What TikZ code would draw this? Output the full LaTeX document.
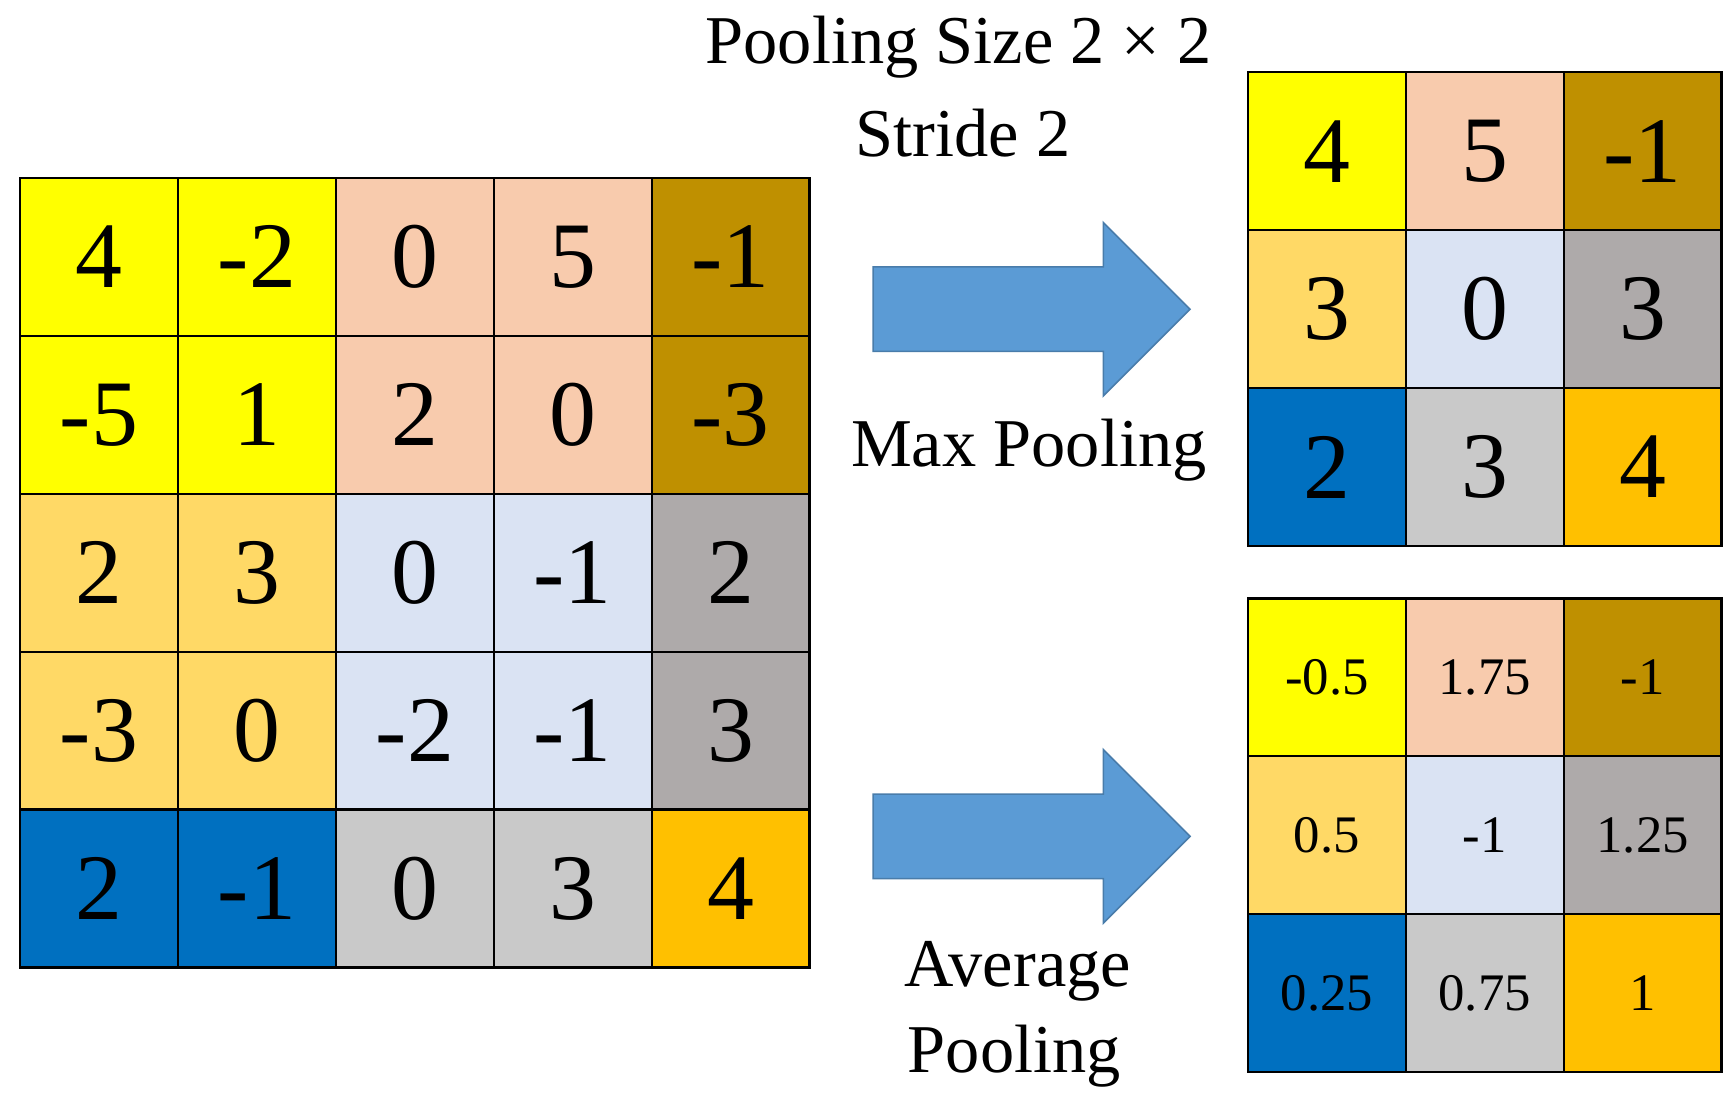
\documentclass[tikz,border=0pt]{standalone}
\usepackage{fontspec}
\setmainfont{Liberation Serif}

\definecolor{cY}{HTML}{FFFF00}
\definecolor{cP}{HTML}{F8CBAD}
\definecolor{cD}{HTML}{BF9000}
\definecolor{cL}{HTML}{FFD966}
\definecolor{cB}{HTML}{DAE3F3}
\definecolor{cG}{HTML}{AEAAAA}
\definecolor{cN}{HTML}{0070C0}
\definecolor{cS}{HTML}{C9C9C9}
\definecolor{cO}{HTML}{FFC000}
\definecolor{arrblue}{HTML}{5B9BD5}

\tikzset{
  cell/.style={draw=black,line width=1.2pt,minimum width=2.84cm,minimum height=2.84cm,inner sep=0pt,font=\fontsize{48}{50}\selectfont},
  small/.style={font=\fontsize{27}{30}\selectfont},
  lbl/.style={font=\fontsize{35}{38}\selectfont,inner sep=0pt},
}

\begin{document}
\begin{tikzpicture}[x=0.02cm,y=-0.02cm]

\useasboundingbox (0,0) rectangle (1560,1001);

% input map
\foreach \r/\row in {1/{cY/4,cY/-2,cP/0,cP/5,cD/-1},2/{cY/-5,cY/1,cP/2,cP/0,cD/-3},3/{cL/2,cL/3,cB/0,cB/-1,cG/2},4/{cL/-3,cL/0,cB/-2,cB/-1,cG/3},5/{cN/2,cN/-1,cS/0,cS/3,cO/4}}{
	\foreach [count=\c] \col/\v in \row{
		\node[cell,fill=\col] (in\r\c) at ({18+142*(\c-0.5)},{160+142*(\r-0.5)}) {\v};
	}
}

% max pooling output
\foreach \r/\row in {1/{cY/4,cP/5,cD/-1},2/{cL/3,cB/0,cG/3},3/{cN/2,cS/3,cO/4}}{
	\foreach [count=\c] \col/\v in \row{
		\node[cell,fill=\col] (max\r\c) at ({1122+142*(\c-0.5)},{65+142*(\r-0.5)}) {\v};
	}
}

% average pooling output
\foreach \r/\row in {1/{cY/-0.5,cP/1.75,cD/-1},2/{cL/0.5,cB/-1,cG/1.25},3/{cN/0.25,cS/0.75,cO/1}}{
	\foreach [count=\c] \col/\v in \row{
		\node[cell,small,fill=\col] (avg\r\c) at ({1122+142*(\c-0.5)},{538+142*(\r-0.5)}) {\v};
	}
}

% arrows
\foreach \y in {278,752}{
	\fill[arrblue,draw=arrblue!80!black,line width=0.8pt]
		(785,\y-38)--(992,\y-38)--(992,\y-78)--(1070,\y)--(992,\y+78)--(992,\y+38)--(785,\y+38)--cycle;
}

\node[lbl] (size) at (862,42) {Pooling Size 2 × 2};
\node[lbl] (stride) at (866,120) {Stride 2};
\node[lbl] (maxlbl) at (925,405) {Max Pooling};
\node[lbl] (avglbl) at (915,873) {Average};
\node[lbl] (avglbl2) at (912,950) {Pooling};

\end{tikzpicture}
\end{document}
